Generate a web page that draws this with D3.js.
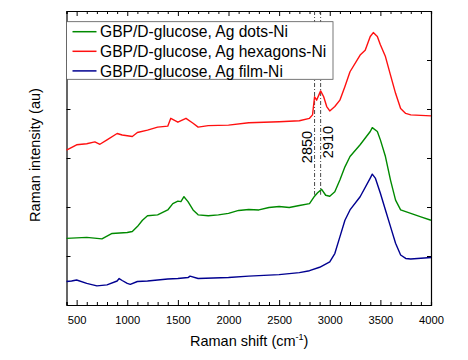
<!DOCTYPE html>
<html>
<head>
<meta charset="utf-8">
<script src="https://cdn.jsdelivr.net/npm/d3@7"></script>
<style>
body{margin:0;background:#fff;}
text{font-family:Arial,"Liberation Sans",sans-serif;}
</style>
</head>
<body>
<svg id="drawing_region"></svg>
<script>
// Raman shift (cm-1) and intensity (au, offset per curve as in the figure)
const red_x = [400,500,600,680,730,800,900,950,1050,1100,1200,1300,1400,1430,1500,1580,1650,1700,1800,2000,2200,2500,2700,2800,2830,2850,2870,2910,2940,2970,3000,3050,3100,3150,3200,3300,3350,3400,3430,3470,3500,3550,3600,3650,3700,3750,3800,4000]
const red_y = [316,327,329,333,328,337,350,347,344,352,357,363,365,381,373,381,371,363,366,367,372,374,376,381,388,425,418,437,425,405,396,405,418,446,476,510,520,548,556,548,531,507,469,432,401,391,388,386]

const green_x = [400,600,750,850,1000,1050,1100,1150,1200,1300,1400,1450,1500,1530,1560,1600,1650,1700,1800,1900,2000,2100,2200,2300,2400,2500,2600,2700,2800,2850,2880,2920,2960,3000,3050,3100,3150,3200,3300,3400,3420,3470,3500,3550,3600,3650,3700,3800,3900,4000]
const green_y = [136,138,135,146,148,150,160,173,182,184,194,207,212,211,221,211,194,184,182,184,187,193,195,194,199,201,199,203,207,222,229,236,224,222,231,255,282,303,327,354,362,354,337,303,255,214,194,187,180,173]

const blue_x = [400,450,500,600,700,800,900,920,950,1000,1030,1100,1200,1300,1400,1500,1600,1620,1700,2000,2200,2500,2700,2800,2900,3000,3050,3100,3150,3200,3300,3400,3420,3450,3500,3550,3600,3650,3700,3750,3800,4000]
const blue_y = [48,49,51,44,39,41,49,54,50,44,42,48,49,51,53,54,56,59,54,56,59,62,66,70,77,88,105,139,173,194,221,259,267,259,228,194,160,126,102,95,94,97]

const series_names = ["GBP/D-glucose, Ag dots-Ni","GBP/D-glucose, Ag hexagons-Ni","GBP/D-glucose, Ag film-Ni"]
const series_colors = ["#008a00","#ff1010","#000090"]
const x_ticks = [500,1000,1500,2000,2500,3000,3500,4000]
const y_ticks = [100,200,300,400,500]
const marker_lines = [2850,2910]

const width = 468, height = 360
const margin = {top:11,right:37,bottom:55,left:66.5}
const inner_width = width-margin.left-margin.right
const inner_height = height-margin.top-margin.bottom

const svg = d3.select("#drawing_region")
    .attr("width",width)
    .attr("height",height)

const chart = svg.append("g")
    .attr("transform",`translate(${margin.left},${margin.top})`)

const xscale = d3.scaleLinear().domain([400,4000]).range([0,inner_width])
const yscale = d3.scaleLinear().domain([0,600]).range([inner_height,0])

// minor ticks every 100
const minor = d3.range(400,4001,100).filter(v=>v%500!==0)

const xaxis_bottom = chart.append("g").attr("transform",`translate(0,${inner_height})`)
xaxis_bottom.call(d3.axisBottom(xscale).tickValues(x_ticks).tickSizeInner(-5).tickSizeOuter(0).tickPadding(11).tickFormat(d3.format("d")))
xaxis_bottom.append("g").call(d3.axisBottom(xscale).tickValues(minor).tickSize(-3).tickFormat(""))
const xaxis_top = chart.append("g")
xaxis_top.call(d3.axisTop(xscale).tickValues(x_ticks).tickSizeInner(-5).tickSizeOuter(0).tickFormat(""))
xaxis_top.append("g").call(d3.axisTop(xscale).tickValues(minor).tickSize(-3).tickFormat(""))

chart.append("g").call(d3.axisLeft(yscale).tickValues(y_ticks).tickSizeInner(-4).tickSizeOuter(0).tickFormat(""))
chart.append("g").attr("transform",`translate(${inner_width},0)`)
    .call(d3.axisRight(yscale).tickValues(y_ticks).tickSizeInner(-4).tickSizeOuter(0).tickFormat(""))

chart.selectAll(".domain").attr("stroke","#000").attr("stroke-width",1.2)
chart.selectAll(".tick line").attr("stroke","#000")
chart.selectAll(".tick text").attr("font-size","11.2px").attr("fill","#000")
    .attr("font-family","Arial, 'Liberation Sans', sans-serif")

// dash-dot marker lines
chart.selectAll(".marker")
    .data(marker_lines)
    .enter()
    .append("line")
    .attr("x1",d=>xscale(d)).attr("x2",d=>xscale(d))
    .attr("y1",0).attr("y2",yscale(225))
    .attr("stroke","#333")
    .attr("stroke-width",0.9)
    .attr("stroke-dasharray","4,2,1,2")

const series = [
    {x:green_x,y:green_y},
    {x:red_x,y:red_y},
    {x:blue_x,y:blue_y}
]
const line = d3.line().x(d=>xscale(d[0])).y(d=>yscale(d[1]))
chart.selectAll(".curve")
    .data(series)
    .enter()
    .append("path")
    .attr("d",d=>line(d.x.map((v,i)=>[v,d.y[i]])))
    .attr("stroke",(d,i)=>series_colors[i])
    .attr("stroke-width",1.4)
    .attr("stroke-linejoin","round")
    .attr("fill","none")

// peak labels
chart.append("text")
    .attr("transform",`translate(${xscale(2850)-3},${136}) rotate(-90)`)
    .attr("text-anchor","middle")
    .attr("font-size","14.5px")
    .text("2850")
chart.append("text")
    .attr("transform",`translate(${xscale(2910)+12.5},${131}) rotate(-90)`)
    .attr("text-anchor","middle")
    .attr("font-size","14.5px")
    .text("2910")

// legend
const legend = chart.append("g").attr("transform","translate(0,10.7)")
legend.append("rect")
    .attr("x",0).attr("y",0)
    .attr("width",266.5).attr("height",57.6)
    .attr("fill","#fff")
    .attr("stroke","#555")
    .attr("stroke-width",0.8)
const rows = legend.selectAll(".row")
    .data(series_names)
    .enter()
    .append("g")
    .attr("transform",(d,i)=>`translate(0,${10+i*19.6})`)
rows.append("line")
    .attr("x1",6).attr("x2",30)
    .attr("stroke",(d,i)=>series_colors[i])
    .attr("stroke-width",1.5)
rows.append("text")
    .attr("x",33.5).attr("y",5.6)
    .attr("font-size","15.6px")
    .text(d=>d)

// axis titles
const xtitle = svg.append("text")
    .attr("x",190).attr("y",346)
    .attr("font-size","14.5px")
xtitle.append("tspan").text("Raman shift (cm")
xtitle.append("tspan").attr("font-size","9px").attr("dy",-6).text("-1")
xtitle.append("tspan").attr("dy",6).text(")")

svg.append("text")
    .attr("transform","translate(40,155) rotate(-90)")
    .attr("text-anchor","middle")
    .attr("font-size","14.5px")
    .text("Raman intensity (au)")
</script>
</body>
</html>
